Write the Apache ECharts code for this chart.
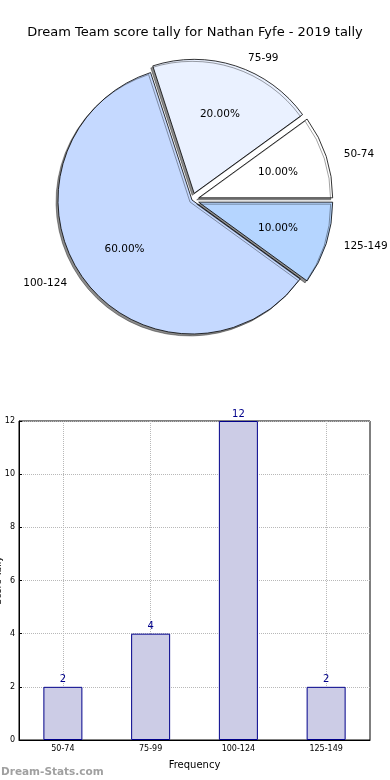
<!DOCTYPE html>
<html>
<head>
<meta charset="utf-8">
<script src="https://cdn.jsdelivr.net/npm/echarts@6/dist/echarts.min.js"></script>
<style>
html,body{margin:0;padding:0;background:#fff;}
#c{width:390px;height:780px;}
</style>
</head>
<body>
<div id="c"></div>
<script>
const categories = ['50-74', '75-99', '100-124', '125-149'];
const counts = [2, 4, 12, 2];
const pieColors = ['#ffffff', '#eaf1ff', '#c5d9ff', '#b5d5ff'];
const exploded = [true, true, false, true];
const yTicks = [0, 2, 4, 6, 8, 10, 12];
const titleText = 'Dream Team score tally for Nathan Fyfe - 2019 tally';
const xAxisTitle = 'Frequency';
const yAxisTitle = 'Score Tally';
const watermark = 'Dream-Stats.com';

const total = counts.reduce((a, b) => a + b, 0);
const R = 134;
const CX = 192, CY = 200;
const font = 'DejaVu Sans';

const pieMain = categories.map((c, i) => ({
  name: c, value: counts[i], selected: exploded[i],
  itemStyle: { color: pieColors[i] }
}));
const piePct = categories.map((c, i) => ({
  name: c, value: counts[i], selected: exploded[i]
}));

const chart = echarts.init(document.getElementById('c'));
chart.setOption({
  animation: false,
  textStyle: { fontFamily: font },
  title: [
    { text: titleText, left: 'center', top: 21,
      textStyle: { fontFamily: font, fontSize: 13, fontWeight: 'normal', color: '#000' } },
    { text: watermark, left: -4, top: 762,
      textStyle: { fontFamily: font, fontSize: 10.5, fontWeight: 'bold', color: '#a0a0a0' } }
  ],
  grid: { left: 19, right: 20, top: 421, bottom: 40, containLabel: false, outerBoundsMode: 'none',
    show: true, borderColor: '#000', borderWidth: 1, backgroundColor: 'transparent' },
  xAxis: {
    type: 'category', data: categories,
    name: xAxisTitle, nameLocation: 'middle', nameGap: 20, nameMoveOverlap: false,
    nameTextStyle: { fontFamily: font, fontSize: 10, color: '#000' },
    axisLine: { lineStyle: { color: '#000' } },
    axisTick: { show: false },
    axisLabel: { fontFamily: font, fontSize: 8, color: '#000', margin: 5 },
    splitLine: { show: true, alignWithLabel: true, lineStyle: { color: '#b8b8b8', type: 'dotted' } }
  },
  yAxis: {
    type: 'value', min: 0, max: 12, interval: 2,
    name: yAxisTitle, nameLocation: 'middle', nameGap: 16, nameRotate: 90, nameMoveOverlap: false,
    nameTextStyle: { fontFamily: font, fontSize: 9, color: '#000' },
    axisLine: { show: true, lineStyle: { color: '#000' } },
    axisTick: { show: true, inside: true, length: 3, lineStyle: { color: '#000' } },
    axisLabel: { fontFamily: font, fontSize: 8, color: '#000', margin: 4,
      formatter: v => yTicks.includes(v) ? String(v) : '' },
    splitLine: { show: true, lineStyle: { color: '#b8b8b8', type: 'dotted' } }
  },
  series: [
    {
      type: 'pie', center: [CX, CY], radius: [0, R],
      clockwise: false, startAngle: 0,
      selectedMode: 'multiple', selectedOffset: 7,
      avoidLabelOverlap: false,
      data: pieMain,
      itemStyle: { borderColor: '#000', borderWidth: 0.8,
        shadowColor: 'rgba(0,0,0,0.45)', shadowOffsetX: -2, shadowOffsetY: 2, shadowBlur: 0 },
      label: { show: true, position: 'outside', formatter: '{b}', fontFamily: font, fontSize: 10.5, color: '#000',
        distanceToLabelLine: 0 },
      labelLine: { show: false, length: 8, length2: 10 },
      emphasis: { disabled: true },
      silent: true
    },
    {
      type: 'pie', center: [CX, CY], radius: [0, R * 1.2],
      clockwise: false, startAngle: 0,
      selectedMode: 'multiple', selectedOffset: 7,
      avoidLabelOverlap: false,
      data: piePct,
      itemStyle: { color: 'rgba(0,0,0,0)', borderWidth: 0 },
      label: { show: true, position: 'inside', fontFamily: font, fontSize: 10.5, color: '#000',
        formatter: p => (p.value / total * 100).toFixed(2) + '%' },
      labelLine: { show: false },
      emphasis: { disabled: true },
      silent: true
    },
    {
      type: 'bar', data: counts, barWidth: 39,
      itemStyle: { color: '#ccccE6', borderColor: '#00008b', borderWidth: 1 },
      label: { show: true, position: 'top', distance: 2, fontFamily: font, fontSize: 10, color: '#00008b' },
      silent: true
    }
  ]
});
</script>
</body>
</html>
